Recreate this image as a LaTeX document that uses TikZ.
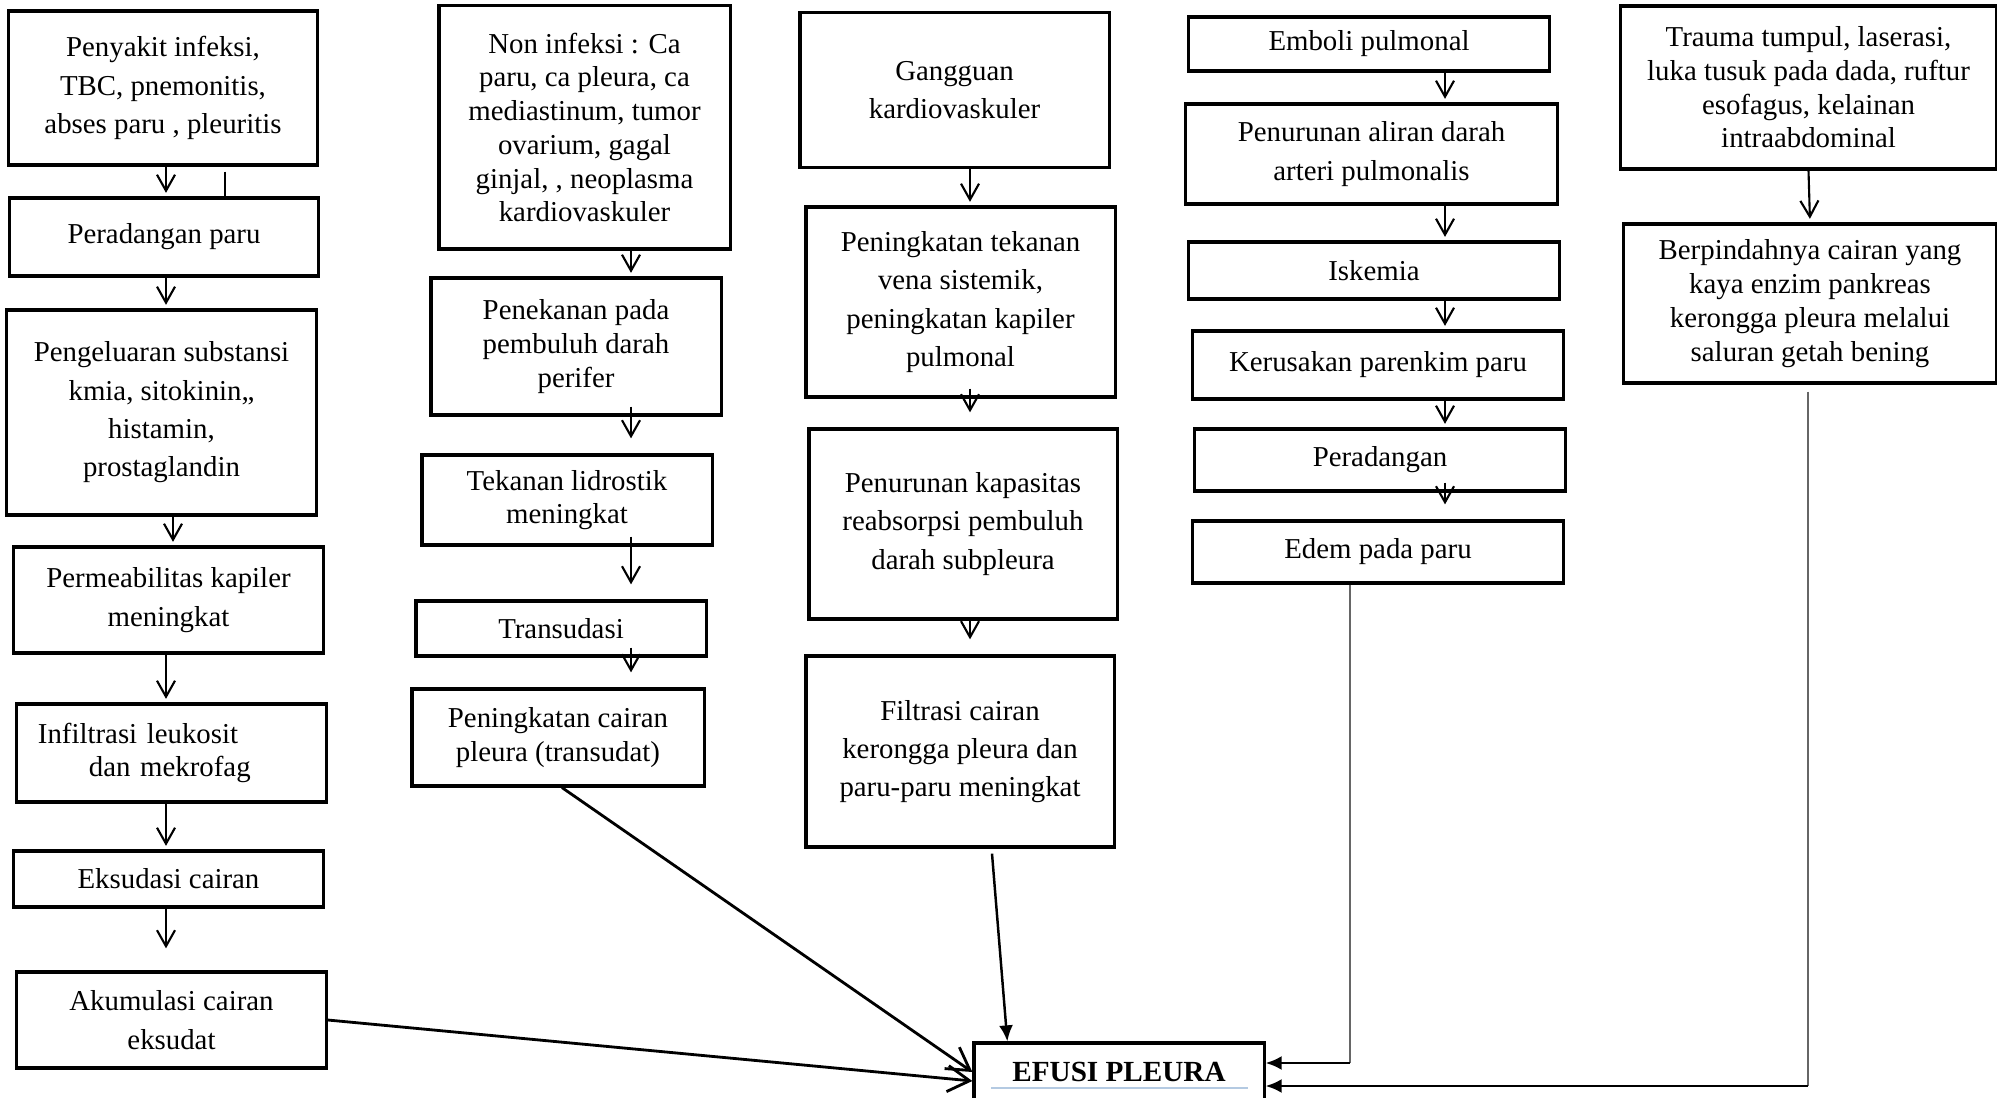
\documentclass[tikz,border=0pt]{standalone}
\usepackage{fontspec}
\setmainfont{Liberation Serif}
\usepackage{tikz}
\usetikzlibrary{arrows.meta, positioning, calc}
\definecolor{garisbiru}{RGB}{180,202,226}

\begin{document}
\begin{tikzpicture}[x=0.01cm, y=-0.01cm,
    kotak/.style={rectangle, draw=black, line width=0.9pt, align=center, inner sep=2pt,
        font=\fontsize{8.2}{10.9}\selectfont},
    rapat/.style={kotak, font=\fontsize{8.2}{9.6}\selectfont},
    panah/.style={-{Straight Barb[length=1.6mm, width=1.8mm]}, line width=0.6pt, shorten >=1pt},
    masuk/.style={panah, shorten <=-0.1cm, shorten >=0.15cm},
    panahbesar/.style={-{Straight Barb[length=2.2mm, width=2.6mm]}, line width=0.8pt},
    panahpenuh/.style={-{Latex[length=1.6mm, width=1.4mm]}, line width=0.7pt},
    garis/.style={line width=0.45pt, black!60}]

    \useasboundingbox (0,0) rectangle (1997,1098);

    % kolom infeksi
    \node [kotak, minimum width=3.08cm, minimum height=1.54cm] (infeksi) at (163,88) {Penyakit infeksi,\\TBC, pnemonitis,\\abses paru , pleuritis};
    \node [kotak, minimum width=3.08cm, minimum height=0.78cm] (paru) at (164,237) {Peradangan paru};
    \node [kotak, minimum width=3.09cm, minimum height=2.05cm] (substansi) at (161.5,412.5) {Pengeluaran substansi\\kmia, sitokinin,,\\histamin,\\prostaglandin};
    \node [kotak, minimum width=3.09cm, minimum height=1.06cm] (permeabilitas) at (168.5,600) {Permeabilitas kapiler\\meningkat};
    \node [kotak, align=left, text width=2.67cm, inner xsep=0.21cm, minimum height=0.98cm, font=\fontsize{8.2}{9.6}\selectfont] (infiltrasi) at (171.5,753) {Infiltrasi leukosit\\\hspace*{0.51cm}dan mekrofag};
    \node [kotak, minimum width=3.09cm, minimum height=0.56cm] (eksudasi) at (168.5,879) {Eksudasi cairan};
    \node [kotak, minimum width=3.09cm, minimum height=0.96cm] (akumulasi) at (171.5,1020) {Akumulasi cairan\\eksudat};

    % kolom non infeksi
    \node [rapat, minimum width=2.91cm, minimum height=2.43cm] (noninfeksi) at (584.5,127.5) {Non infeksi : Ca\\paru, ca pleura, ca\\mediastinum, tumor\\ovarium, gagal\\ginjal, , neoplasma\\kardiovaskuler};
    \node [rapat, minimum width=2.90cm, minimum height=1.37cm] (penekanan) at (576,346.5) {Penekanan pada\\pembuluh darah\\perifer};
    \node [rapat, minimum width=2.90cm, minimum height=0.90cm] (hidrostatik) at (567,500) {Tekanan lidrostik\\meningkat};
    \node [rapat, minimum width=2.90cm, minimum height=0.55cm] (transudasi) at (561,628.5) {Transudasi};
    \node [rapat, minimum width=2.92cm, minimum height=0.97cm] (transudat) at (558,737.5) {Peningkatan cairan\\pleura (transudat)};

    % kolom kardiovaskuler
    \node [kotak, minimum width=3.09cm, minimum height=1.55cm] (kardio) at (954.5,90) {Gangguan\\kardiovaskuler};
    \node [kotak, minimum width=3.09cm, minimum height=1.90cm] (vena) at (960.5,302) {Peningkatan tekanan\\vena sistemik,\\peningkatan kapiler\\pulmonal};
    \node [kotak, minimum width=3.08cm, minimum height=1.90cm] (reabsorpsi) at (963,524) {Penurunan kapasitas\\reabsorpsi pembuluh\\darah subpleura};
    \node [kotak, minimum width=3.08cm, minimum height=1.91cm] (filtrasi) at (960,751.5) {Filtrasi cairan\\kerongga pleura dan\\paru-paru meningkat};

    % kolom emboli
    \node [kotak, minimum width=3.60cm, minimum height=0.54cm] (emboli) at (1369,44) {Emboli pulmonal};
    \node [kotak, minimum width=3.71cm, minimum height=1.00cm] (aliran) at (1371.5,154) {Penurunan aliran darah\\arteri pulmonalis};
    \node [kotak, minimum width=3.70cm, minimum height=0.57cm] (iskemia) at (1374,270.5) {Iskemia};
    \node [kotak, minimum width=3.70cm, minimum height=0.68cm] (parenkim) at (1378,365) {Kerusakan parenkim paru};
    \node [kotak, minimum width=3.70cm, minimum height=0.62cm] (radang) at (1380,460) {Peradangan};
    \node [kotak, minimum width=3.70cm, minimum height=0.62cm] (edem) at (1378,552) {Edem pada paru};

    % kolom trauma
    \node [rapat, minimum width=3.75cm, minimum height=1.63cm] (trauma) at (1808.5,87.5) {Trauma tumpul, laserasi,\\luka tusuk pada dada, ruftur\\esofagus, kelainan\\intraabdominal};
    \node [rapat, minimum width=3.72cm, minimum height=1.59cm] (enzim) at (1810,303.5) {Berpindahnya cairan yang\\kaya enzim pankreas\\kerongga pleura melalui\\saluran getah bening};

    % hasil akhir
    \node [kotak, minimum width=2.90cm, minimum height=0.58cm, font=\fontsize{8.3}{10}\selectfont\bfseries] (efusi) at (1119,1072) {EFUSI PLEURA};
    \draw [garisbiru, line width=0.6pt] ($(efusi.center)+(-128,16)$) -- ($(efusi.center)+(129,16)$);

    \coordinate (ka) at (166,0);
    \coordinate (kb) at (631,0);
    \coordinate (kc) at (970,0);
    \coordinate (kd) at (1445,0);
    \coordinate (sudutedem) at (1350,1063);
    \coordinate (sudutenzim) at (1808,1086);

    \draw [line width=0.4pt] ($(infeksi.south)+(62,5)$) -- ($(infeksi.south)+(62,30)$);
    \draw [panah] (infeksi.south -| ka) -- (paru.north -| ka);
    \draw [panah] (paru.south -| ka) -- (substansi.north -| ka);
    \draw [panah] ($(substansi.south -| ka)+(7,0)$) -- ($(permeabilitas.north -| ka)+(7,0)$);
    \draw [panah] (permeabilitas.south -| ka) -- (infiltrasi.north -| ka);
    \draw [panah] (infiltrasi.south -| ka) -- (eksudasi.north -| ka);
    \draw [panah, shorten >=0.22cm] (eksudasi.south -| ka) -- (akumulasi.north -| ka);

    \draw [panah] (noninfeksi.south -| kb) -- (penekanan.north -| kb);
    \draw [masuk] (penekanan.south -| kb) -- (hidrostatik.north -| kb);
    \draw [masuk] (hidrostatik.south -| kb) -- (transudasi.north -| kb);
    \draw [masuk] (transudasi.south -| kb) -- (transudat.north -| kb);

    \draw [panah] (kardio.south -| kc) -- (vena.north -| kc);
    \draw [masuk] (vena.south -| kc) -- (reabsorpsi.north -| kc);
    \draw [panah, shorten >=0.15cm] (reabsorpsi.south -| kc) -- (filtrasi.north -| kc);

    \draw [panah] (emboli.south -| kd) -- (aliran.north -| kd);
    \draw [panah] (aliran.south -| kd) -- (iskemia.north -| kd);
    \draw [panah] (iskemia.south -| kd) -- (parenkim.north -| kd);
    \draw [panah] (parenkim.south -| kd) -- (radang.north -| kd);
    \draw [masuk] (radang.south -| kd) -- (edem.north -| kd);

    \draw [panah] (trauma.south) -- (enzim.north);

    \draw [panahbesar] (akumulasi.east) -- ($(efusi.west)+(0,9)$);
    \draw [panahbesar] ($(transudat.south)+(4,0)$) -- (efusi.west);
    \draw [panahpenuh] ($(filtrasi.south)+(32,5)$) -- ($(efusi.north west)+(35,0)$);
    \draw [garis] (edem.south -| sudutedem) -- (sudutedem);
    \draw [panahpenuh] (sudutedem) -- (sudutedem -| efusi.east);
    \draw [garis] ($(enzim.south -| sudutenzim)+(0,7)$) -- (sudutenzim);
    \draw [panahpenuh] (sudutenzim) -- (sudutenzim -| efusi.east);
\end{tikzpicture}
\end{document}
